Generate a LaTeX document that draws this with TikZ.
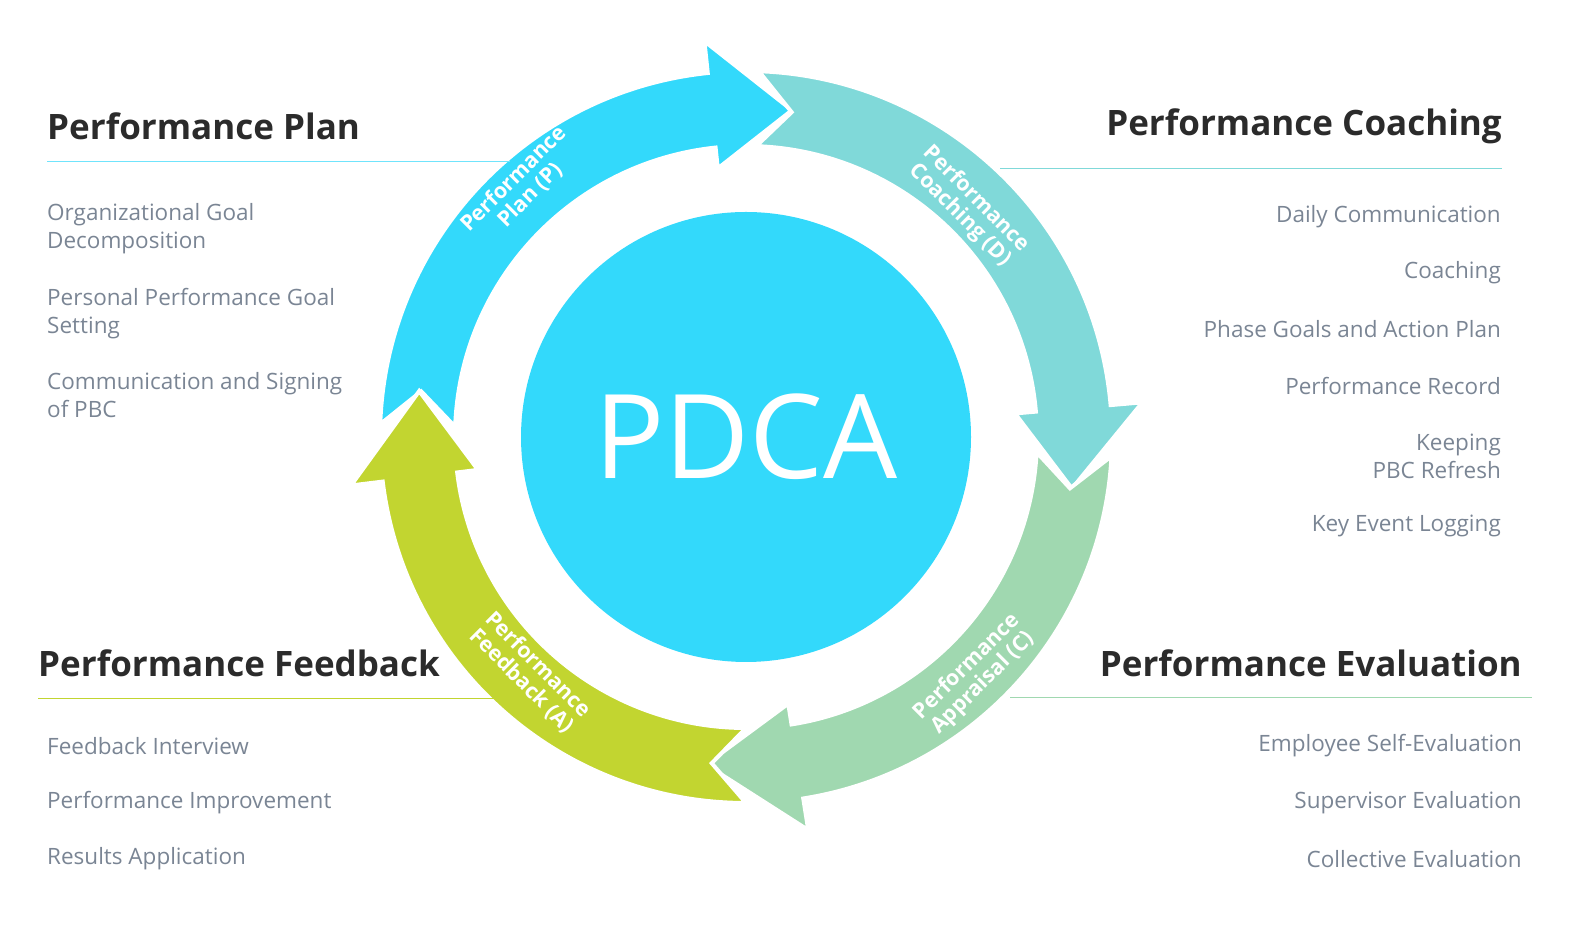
\documentclass[tikz,border=0pt]{standalone}
\usepackage{fontspec}
\setmainfont{Open Sans}
\definecolor{cP}{HTML}{33D9FB}
\definecolor{cD}{HTML}{80D9D9}
\definecolor{cC}{HTML}{A0D8B0}
\definecolor{cA}{HTML}{C2D530}
\definecolor{txt}{HTML}{7A8594}
\definecolor{hd}{HTML}{2B2B2B}
\tikzset{
  head/.style={font=\fontsize{35}{38}\selectfont\bfseries, text=hd, inner sep=0pt},
  item/.style={font=\fontsize{22.5}{28}\selectfont, text=txt, inner sep=0pt, align=left},
  itemr/.style={item, align=right},
  lab/.style={font=\fontsize{21.5}{23}\selectfont\bfseries, text=white, align=center, inner sep=0pt},
  ring/.style={draw=white, line width=4pt, line join=miter}
}
% #1 tail angle, #2 head base angle, #3 tip angle, #4 colour
\newcommand{\cyclearrow}[4]{%
  \filldraw[ring, fill=#4] (#1:366) arc[start angle=#1, end angle=#2, radius=366]
    -- (#2:398) -- (#3:330) -- (#2:270) -- (#2:291)
    arc[start angle=#2, end angle=#1, radius=291] -- ({#1-6}:328) -- cycle;}
\begin{document}
\begin{tikzpicture}[x=1pt,y=1pt]
\useasboundingbox (0,0) rectangle (1570,925);
\begin{scope}[shift={(746,488)}]
  \cyclearrow{178}{96}{82}{cP}
  \cyclearrow{88}{5}{-9}{cD}
  \cyclearrow{-3}{-81}{-97}{cC}
  \cyclearrow{-90}{-173}{-188}{cA}
  \fill[cP] (0,0) circle (225);
  \node[font=\fontsize{117}{120}\selectfont, text=white] (pdca) at (0,0) {PDCA};
\end{scope}
\node[lab, rotate=45] (lp) at (522,738) {Performance\\Plan (P)};
\node[lab, rotate=-45] (ld) at (968,718) {Performance\\Coaching (D)};
\node[lab, rotate=45] (lc) at (975,250) {Performance\\Appraisal (C)};
\node[lab, rotate=-45] (la) at (530,252) {Performance\\Feedback (A)};
% headings
\node[head, anchor=west] (h1) at (47,799) {Performance Plan};
\draw[cP!70, line width=0.8pt] (47,764) -- (510,764);
\node[head, anchor=east] (h2) at (1502,799) {Performance Coaching};
\draw[cD, line width=0.8pt] (1000,757) -- (1502,757);
\node[head, anchor=west] (h3) at (38,262) {Performance Feedback};
\draw[cA, line width=0.8pt] (38,227) -- (500,227);
\node[head, anchor=east] (h4) at (1522,262) {Performance Evaluation};
\draw[cC, line width=0.8pt] (1010,228) -- (1532,228);
% items
\node[item, anchor=north west] (p1) at (47,722) {Organizational Goal\\Decomposition};
\node[item, anchor=north west] (p2) at (47,637) {Personal Performance Goal\\Setting};
\node[item, anchor=north west] (p3) at (47,553) {Communication and Signing\\of PBC};
\node[itemr, anchor=east] (d1) at (1501,708) {Daily Communication};
\node[itemr, anchor=east] (d2) at (1501,652) {Coaching};
\node[itemr, anchor=east] (d3) at (1501,596) {Phase Goals and Action Plan};
\node[itemr, anchor=east] (d4) at (1501,539) {Performance Record};
\node[itemr, anchor=east] (d5) at (1501,469) {Keeping\\PBC Refresh};
\node[itemr, anchor=east] (d6) at (1501,399) {Key Event Logging};
\node[item, anchor=west] (a1) at (47,179) {Feedback Interview};
\node[item, anchor=west] (a2) at (47,122) {Performance Improvement};
\node[item, anchor=west] (a3) at (47,66) {Results Application};
\node[itemr, anchor=east] (c1) at (1522,179) {Employee Self-Evaluation};
\node[itemr, anchor=east] (c2) at (1522,122) {Supervisor Evaluation};
\node[itemr, anchor=east] (c3) at (1522,66) {Collective Evaluation};
\end{tikzpicture}
\end{document}
